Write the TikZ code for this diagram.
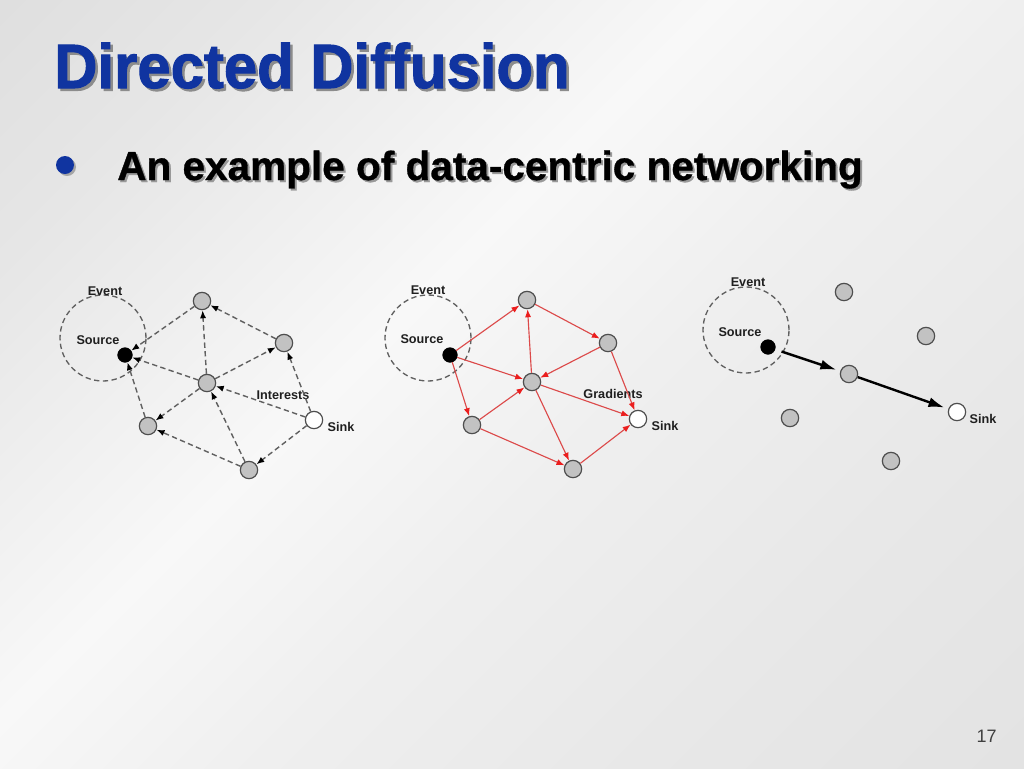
\documentclass[tikz,border=0pt]{standalone}
\usepackage{fontspec}
\setmainfont{Liberation Sans}
\newfontfamily\heavyfont[BoldFeatures={FakeBold=1.6}]{Liberation Sans}
\newfontfamily\semiheavy[BoldFeatures={FakeBold=0.8}]{Liberation Sans}
\usetikzlibrary{arrows.meta}
\definecolor{tblue}{RGB}{16,52,160}
\definecolor{nodegray}{RGB}{194,194,194}
\definecolor{nodeedge}{RGB}{78,78,78}
\definecolor{dashgray}{RGB}{96,96,96}
\definecolor{gradred}{RGB}{220,74,74}
\definecolor{tipred}{RGB}{235,30,30}
\definecolor{bgA}{RGB}{213,213,213}
\definecolor{bgB}{RGB}{230,230,230}
\definecolor{bgC}{RGB}{248,248,248}
\definecolor{bgE}{RGB}{239,239,239}
\definecolor{bgF}{RGB}{232,232,232}
\definecolor{bgD}{RGB}{222,222,222}
\pgfdeclareverticalshading{bgshade}{100bp}{color(0bp)=(bgD); color(30bp)=(bgF); color(45bp)=(bgE); color(57bp)=(bgC); color(75bp)=(bgB); color(100bp)=(bgA)}
\begin{document}
\begin{tikzpicture}[x=0.75pt,y=-0.75pt,
  gnode/.style={circle, draw=nodeedge, fill=nodegray, line width=0.9pt, minimum size=13pt, inner sep=0pt},
  srcnode/.style={circle, draw=black, fill=black, minimum size=11pt, inner sep=0pt},
  sinknode/.style={circle, draw=nodeedge, fill=white, line width=0.9pt, minimum size=13pt, inner sep=0pt},
  evnode/.style={circle, draw=dashgray, dash pattern=on 4pt off 2.6pt, line width=1pt, minimum size=64.5pt, inner sep=0pt},
  lbl/.style={font=\fontsize{9.5}{11}\selectfont\bfseries, text=black!88, inner sep=0pt},
  intr/.style={draw=dashgray, line width=1.05pt, dash pattern=on 4pt off 2.5pt, -{Latex[length=6pt,width=4.6pt,black]}},
  grad/.style={draw=gradred, line width=0.85pt, -{Latex[length=6pt,width=4.6pt,tipred]}},
  reinf/.style={draw=black, line width=1.8pt, shorten >=3pt, -{Latex[length=12pt,width=7.5pt]}}
]
\useasboundingbox (0,0) rectangle (1024,768);
\shade[shading=bgshade, shading angle=45] (0,0) rectangle (1024,768);

% title
\node[anchor=base west, inner sep=0pt, font=\fontsize{47}{50}\selectfont\heavyfont\bfseries] (title) at (54,88)
  {\rlap{\kern1.9pt\raisebox{-1.9pt}{\color{black!45}\scalebox{0.955}[1]{Directed Diffusion}}}\color{tblue}\scalebox{0.955}[1]{Directed Diffusion}};

% bullet
\node[circle, fill=black!35, minimum size=13.5pt, inner sep=0pt] (bulletsh) at (67,167) {};
\node[circle, fill=tblue, minimum size=13.5pt, inner sep=0pt] (bullet) at (65,165) {};
\node[anchor=base west, inner sep=0pt, font=\fontsize{30.4}{34}\selectfont\semiheavy\bfseries] (sub) at (117,180)
  {\rlap{\kern1.5pt\raisebox{-1.5pt}{\color{black!40}An example of data-centric networking}}\color{black}An example of data-centric networking};

% page number
\node[anchor=base east, inner sep=0pt, font=\fontsize{13.5}{15}\selectfont, text=black!75] (pnum) at (997,742) {17};

% ---------- panel 1: interests ----------
\node[evnode] (p1ev) at (103,338) {};
\node[srcnode] (p1src) at (125,355) {};
\node[gnode] (p1top) at (202,301) {};
\node[gnode] (p1rt) at (284,343) {};
\node[gnode] (p1ctr) at (207,383) {};
\node[gnode] (p1lb) at (148,426) {};
\node[gnode] (p1bot) at (249,470) {};
\node[sinknode] (p1sink) at (314,420) {};
\node[lbl] (p1evl) at (105,291) {Event};
\node[lbl] (p1srcl) at (98,340) {Source};
\node[lbl] (p1intl) at (283,395) {Interests};
\node[lbl] (p1sinkl) at (341,427) {Sink};
\draw[intr] (p1top) -- (p1src);
\draw[intr] (p1rt) -- (p1top);
\draw[intr] (p1ctr) -- (p1top);
\draw[intr] (p1ctr) -- (p1src);
\draw[intr] (p1ctr) -- (p1rt);
\draw[intr] (p1ctr) -- (p1lb);
\draw[intr] (p1lb) -- (p1src);
\draw[intr] (p1bot) -- (p1lb);
\draw[intr] (p1bot) -- (p1ctr);
\draw[intr] (p1sink) -- (p1ctr);
\draw[intr] (p1sink) -- (p1rt);
\draw[intr] (p1sink) -- (p1bot);

% ---------- panel 2: gradients ----------
\node[evnode] (p2ev) at (428,338) {};
\node[srcnode] (p2src) at (450,355) {};
\node[gnode] (p2top) at (527,300) {};
\node[gnode] (p2rt) at (608,343) {};
\node[gnode] (p2ctr) at (532,382) {};
\node[gnode] (p2lb) at (472,425) {};
\node[gnode] (p2bot) at (573,469) {};
\node[sinknode] (p2sink) at (638,419) {};
\node[lbl] (p2evl) at (428,290) {Event};
\node[lbl] (p2srcl) at (422,339) {Source};
\node[lbl] (p2gradl) at (613,394) {Gradients};
\node[lbl] (p2sinkl) at (665,426) {Sink};
\draw[grad] (p2src) -- (p2top);
\draw[grad] (p2src) -- (p2ctr);
\draw[grad] (p2src) -- (p2lb);
\draw[grad] (p2top) -- (p2rt);
\draw[grad] (p2ctr) -- (p2top);
\draw[grad] (p2rt) -- (p2ctr);
\draw[grad] (p2rt) -- (p2sink);
\draw[grad] (p2ctr) -- (p2sink);
\draw[grad] (p2ctr) -- (p2bot);
\draw[grad] (p2lb) -- (p2ctr);
\draw[grad] (p2lb) -- (p2bot);
\draw[grad] (p2bot) -- (p2sink);

% ---------- panel 3: reinforced path ----------
\node[evnode] (p3ev) at (746,330) {};
\node[srcnode] (p3src) at (768,347) {};
\node[gnode] (p3top) at (844,292) {};
\node[gnode] (p3rt) at (926,336) {};
\node[gnode] (p3mid) at (849,374) {};
\node[gnode] (p3lb) at (790,418) {};
\node[gnode] (p3bot) at (891,461) {};
\node[sinknode] (p3sink) at (957,412) {};
\node[lbl] (p3evl) at (748,282) {Event};
\node[lbl] (p3srcl) at (740,332) {Source};
\node[lbl] (p3sinkl) at (983,419) {Sink};
\draw[reinf, shorten <=5pt] (p3src) -- (p3mid);
\draw[reinf] (p3mid) -- (p3sink);
\end{tikzpicture}
\end{document}
